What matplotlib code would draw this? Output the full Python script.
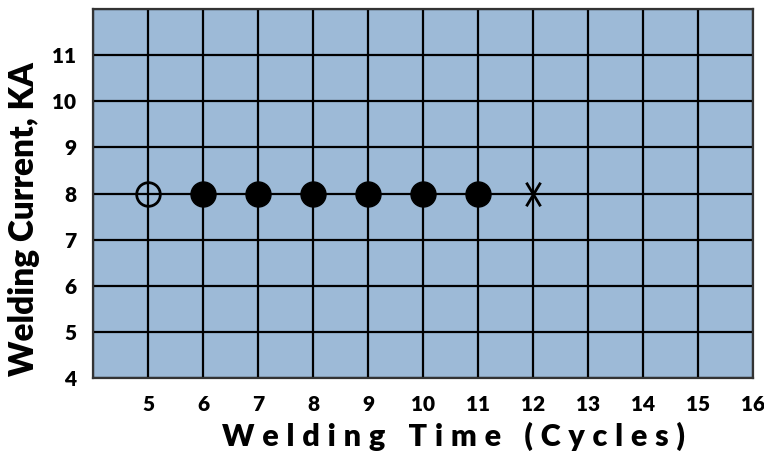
import matplotlib.pyplot as plt
from matplotlib.path import Path

# Data
time_open = [5]
current_open = [8]
time_solid = [6, 7, 8, 9, 10, 11]
current_solid = [8, 8, 8, 8, 8, 8]
time_cross = [12]
current_cross = [8]

x_ticks = list(range(5, 17))
y_ticks = list(range(4, 12))

plt.rcParams['font.family'] = ['Lato', 'DejaVu Sans']
plt.rcParams['font.weight'] = 'heavy'

fig = plt.figure(figsize=(7.64, 4.57), dpi=100)
ax = fig.add_axes([93 / 764, 1 - 378 / 457, 660 / 764, 369 / 457])
ax.set_facecolor('#9dbad7')

ax.set_xlim(4, 16)
ax.set_ylim(4, 12)
ax.set_xticks(range(4, 17))
ax.set_xticklabels([''] + [str(t) for t in x_ticks])
ax.set_yticks(range(4, 13))
ax.set_yticklabels([str(t) for t in y_ticks] + [''])
ax.tick_params(length=0, labelsize=15, pad=12)
ax.grid(True, color='black', linewidth=1.6)
ax.set_axisbelow(True)
for s in ax.spines.values():
    s.set_color('#333333')
    s.set_linewidth(1.6)

# tall narrow cross, like a letter X
cross = Path([(-0.6, -1), (0.6, 1), (-0.6, 1), (0.6, -1)],
             [Path.MOVETO, Path.LINETO, Path.MOVETO, Path.LINETO])

# Markers
ax.plot(time_open, current_open, 'o', ms=17, mfc='none', mec='black', mew=2, zorder=3)
ax.plot(time_solid, current_solid, 'o', ms=18, color='black', zorder=3)
ax.plot(time_cross, current_cross, marker=cross, ls='none', ms=17, mew=2, color='black', zorder=3)

sp = '\u2009'
xlabel = (sp * 6).join((sp * 2).join(w) for w in 'Welding Time (Cycles)'.split(' '))
fig.text(454 / 764, 1 - 436 / 457, xlabel, ha='center', va='center',
         fontsize=22, fontweight='heavy')
fig.text(24 / 764, 1 - 219 / 457, 'Welding Current, KA', ha='center', va='center',
         rotation=90, fontsize=24, fontweight='heavy')

fig.savefig('out.png', dpi=100)
